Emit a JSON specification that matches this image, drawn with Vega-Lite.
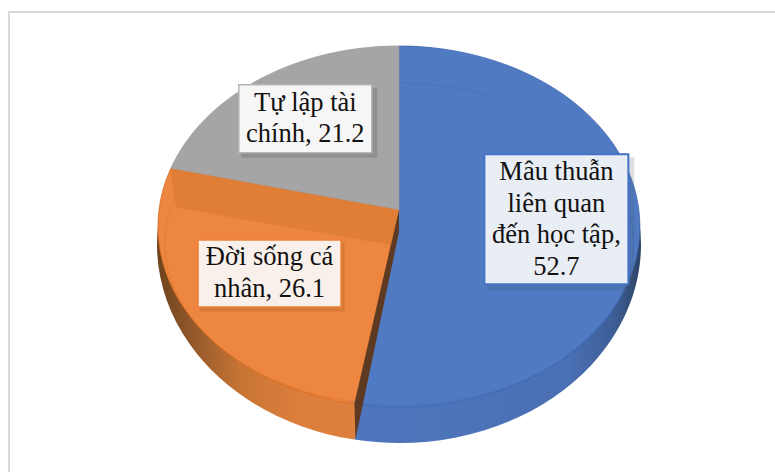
{"$schema":"https://vega.github.io/schema/vega-lite/v6.json","width":770,"height":500,"padding":{"left":9,"top":12,"right":0,"bottom":0},"autosize":"none","background":"#ffffff","view":{"stroke":"#d9d9d9","strokeWidth":2,"fill":"#ffffff"},"data":{"values":[{"category":"Mâu thuẫn liên quan đến học tập","value":52.7,"label":"Mâu thuẫn\nliên quan\nđến học tập,\n52.7"},{"category":"Đời sống cá nhân","value":26.1,"label":"Đời sống cá\nnhân, 26.1"},{"category":"Tự lập tài chính","value":21.2,"label":"Tự lập tài\nchính, 21.2"}]},"transform":[{"window":[{"op":"sum","field":"value","as":"c1"}],"frame":[null,0]},{"calculate":"(datum.c1-datum.value)/100*2*PI","as":"a0"},{"calculate":"datum.c1/100*2*PI","as":"a1"},{"calculate":"(datum.a0+datum.a1)/2","as":"am"},{"calculate":"datum.value>50?1:0","as":"large"},{"calculate":"round(24000*sin(datum.a0)/(1+0.0914*cos(datum.a0)))/100","as":"ex0"},{"calculate":"round(-17900*cos(datum.a0)/(1+0.0914*cos(datum.a0)))/100","as":"ey0"},{"calculate":"round(24000*sin(datum.a1)/(1+0.0914*cos(datum.a1)))/100","as":"ex1"},{"calculate":"round(-17900*cos(datum.a1)/(1+0.0914*cos(datum.a1)))/100","as":"ey1"},{"calculate":"240*sin(datum.am)/(1+0.0914*cos(datum.am))","as":"emx"},{"calculate":"-179*cos(datum.am)/(1+0.0914*cos(datum.am))","as":"emy"},{"calculate":"round(100*(34.5+(datum.ey0>17?1:-1)*198.5*sqrt(1-pow(datum.ex0/242,2))))/100","as":"sy0"},{"calculate":"round(100*(34.5+(datum.ey1>17?1:-1)*198.5*sqrt(1-pow(datum.ex1/242,2))))/100","as":"sy1"},{"calculate":"round(22870*sin(datum.a0)/(1+0.211*cos(datum.a0)))/100","as":"bx0"},{"calculate":"round(-15380*cos(datum.a0)/(1+0.211*cos(datum.a0)))/100","as":"by0"},{"calculate":"round(22870*sin(datum.a1)/(1+0.211*cos(datum.a1)))/100","as":"bx1"},{"calculate":"round(-15380*cos(datum.a1)/(1+0.211*cos(datum.a1)))/100","as":"by1"},{"calculate":"'M0,0L'+datum.ex0+','+datum.ey0+'A241,180.5 0 '+datum.large+' 1 '+datum.ex1+','+datum.ey1+'Z'","as":"topPath"},{"calculate":"'M0,0L'+datum.ex0+','+datum.sy0+'A242,198.5 0 '+datum.large+' 1 '+datum.ex1+','+datum.sy1+'Z'","as":"rimPath"},{"calculate":"'M'+datum.bx0+','+datum.by0+'A234,161 0 '+datum.large+' 1 '+datum.bx1+','+datum.by1","as":"bevelPath"},{"calculate":"'M'+datum.ex1+','+datum.ey1+'L0,0L-3,36L'+(datum.ex1+5)+','+(datum.ey1+39)+'Z'","as":"wallPath"},{"calculate":"'M0,0L'+datum.ex0+','+datum.ey0+'L'+(datum.ex0+1)+','+datum.sy0+'L0,22Z'","as":"slicePath"}],"layer":[{"transform":[{"filter":"datum.value>50"}],"mark":{"type":"point","filled":true,"size":4,"opacity":1,"fill":{"gradient":"linear","x1":0,"y1":0,"x2":1,"y2":0,"stops":[{"offset":0,"color":"#4f76bd"},{"offset":0.75,"color":"#4a6fb3"},{"offset":0.9,"color":"#3e5f97"},{"offset":1,"color":"#2e4468"}]}},"encoding":{"x":{"datum":0,"type":"quantitative","scale":{"domain":[-390,380],"nice":false,"zero":false},"axis":null},"y":{"datum":0,"type":"quantitative","scale":{"domain":[-198,302],"reverse":true,"nice":false,"zero":false},"axis":null},"shape":{"field":"rimPath","type":"nominal","scale":null,"legend":null}}},{"transform":[{"filter":"datum.value>25&&datum.value<50"}],"mark":{"type":"point","filled":true,"size":4,"opacity":1,"fill":{"gradient":"linear","x1":0,"y1":0,"x2":1,"y2":0,"stops":[{"offset":0,"color":"#6d431c"},{"offset":0.15,"color":"#94592a"},{"offset":0.35,"color":"#c97535"},{"offset":0.6,"color":"#dd7f3c"},{"offset":1,"color":"#dd7f3c"}]}},"encoding":{"x":{"datum":0,"type":"quantitative"},"y":{"datum":0,"type":"quantitative"},"shape":{"field":"rimPath","type":"nominal","scale":null,"legend":null}}},{"mark":{"type":"point","filled":true,"size":4,"opacity":1,"strokeWidth":0.8},"encoding":{"x":{"datum":0,"type":"quantitative"},"y":{"datum":0,"type":"quantitative"},"shape":{"field":"topPath","type":"nominal","scale":null,"legend":null},"fill":{"field":"category","type":"nominal","scale":{"domain":["Mâu thuẫn liên quan đến học tập","Đời sống cá nhân","Tự lập tài chính"],"range":["#507bc3","#ed8640","#a5a5a5"]},"legend":null},"stroke":{"field":"category","type":"nominal","scale":{"domain":["Mâu thuẫn liên quan đến học tập","Đời sống cá nhân","Tự lập tài chính"],"range":["#3f66ae","#d56b20","#9a9a9a"]},"legend":null}}},{"mark":{"type":"point","filled":false,"fill":null,"size":4,"strokeWidth":0.8,"opacity":0.45},"encoding":{"x":{"datum":0,"type":"quantitative"},"y":{"datum":0,"type":"quantitative"},"shape":{"field":"bevelPath","type":"nominal","scale":null,"legend":null},"stroke":{"field":"category","type":"nominal","legend":null}}},{"transform":[{"filter":"datum.value>25&&datum.value<50"}],"mark":{"type":"point","filled":true,"size":4,"opacity":1,"fill":"#e07e38","strokeWidth":0},"encoding":{"x":{"datum":0,"type":"quantitative"},"y":{"datum":0,"type":"quantitative"},"shape":{"field":"wallPath","type":"nominal","scale":null,"legend":null}}},{"transform":[{"filter":"datum.value>25&&datum.value<50"}],"mark":{"type":"point","filled":true,"size":4,"opacity":1,"fill":"#5e3a22","strokeWidth":0},"encoding":{"x":{"datum":0,"type":"quantitative"},"y":{"datum":0,"type":"quantitative"},"shape":{"field":"slicePath","type":"nominal","scale":null,"legend":null}}},{"transform":[{"filter":"datum.value>50"},{"calculate":"datum.emx*0.653","as":"lx"},{"calculate":"datum.emy*0.6","as":"ly"}],"layer":[{"mark":{"type":"point","filled":true,"size":4,"opacity":0.18,"fill":"#44546a","strokeWidth":0,"shape":"M-70,-62H78V71H-70Z"},"encoding":{"x":{"field":"lx","type":"quantitative"},"y":{"field":"ly","type":"quantitative"}}},{"mark":{"type":"point","filled":true,"size":4,"opacity":1,"fill":"#e9edf4","stroke":"#4472c4","strokeWidth":2,"shape":"M-72,-65H72V65H-72Z"},"encoding":{"x":{"field":"lx","type":"quantitative"},"y":{"field":"ly","type":"quantitative"}}},{"mark":{"type":"text","font":"'Liberation Serif','Times New Roman',serif","fontSize":26.5,"lineHeight":31.5,"lineBreak":"\n","color":"#111111","baseline":"middle","align":"center","dy":-47},"encoding":{"x":{"field":"lx","type":"quantitative"},"y":{"field":"ly","type":"quantitative"},"text":{"field":"label"}}}]},{"transform":[{"filter":"datum.value>25&&datum.value<50"},{"calculate":"datum.emx*0.613","as":"lx"},{"calculate":"datum.emy*0.613","as":"ly"}],"layer":[{"mark":{"type":"point","filled":true,"size":4,"opacity":0.2,"fill":"#8a4a18","strokeWidth":0,"shape":"M-70,-31H75V38H-70Z"},"encoding":{"x":{"field":"lx","type":"quantitative"},"y":{"field":"ly","type":"quantitative"}}},{"mark":{"type":"point","filled":true,"size":4,"opacity":1,"fill":"#f9f0eb","stroke":"#ee8136","strokeWidth":1.5,"shape":"M-71.5,-33.5H71.5V33.5H-71.5Z"},"encoding":{"x":{"field":"lx","type":"quantitative"},"y":{"field":"ly","type":"quantitative"}}},{"mark":{"type":"text","font":"'Liberation Serif','Times New Roman',serif","fontSize":26.5,"lineHeight":31.5,"lineBreak":"\n","color":"#111111","baseline":"middle","align":"center","dy":-16},"encoding":{"x":{"field":"lx","type":"quantitative"},"y":{"field":"ly","type":"quantitative"},"text":{"field":"label"}}}]},{"transform":[{"filter":"datum.value<25"},{"calculate":"datum.emx*0.677","as":"lx"},{"calculate":"datum.emy*0.695","as":"ly"}],"layer":[{"mark":{"type":"point","filled":true,"size":4,"opacity":0.25,"fill":"#555555","strokeWidth":0,"shape":"M-64,-31H72V39H-64Z"},"encoding":{"x":{"field":"lx","type":"quantitative"},"y":{"field":"ly","type":"quantitative"}}},{"mark":{"type":"point","filled":true,"size":4,"opacity":1,"fill":"#f6f6f6","stroke":"#b5b5b5","strokeWidth":1.5,"shape":"M-66.5,-34H66.5V34H-66.5Z"},"encoding":{"x":{"field":"lx","type":"quantitative"},"y":{"field":"ly","type":"quantitative"}}},{"mark":{"type":"text","font":"'Liberation Serif','Times New Roman',serif","fontSize":26.5,"lineHeight":31.5,"lineBreak":"\n","color":"#111111","baseline":"middle","align":"center","dy":-16},"encoding":{"x":{"field":"lx","type":"quantitative"},"y":{"field":"ly","type":"quantitative"},"text":{"field":"label"}}}]}]}
